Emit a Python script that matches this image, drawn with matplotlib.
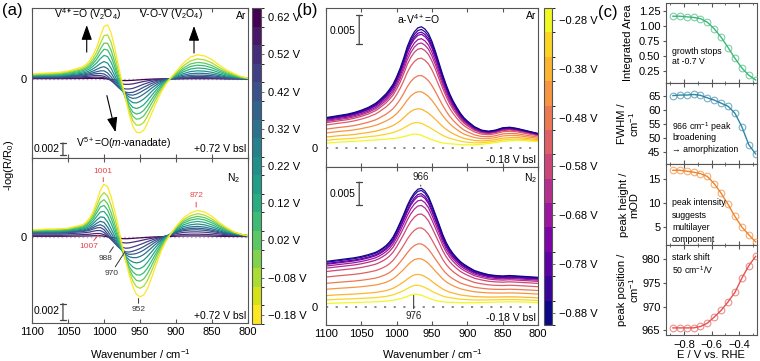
import numpy as np
import matplotlib
matplotlib.use("Agg")
import matplotlib.pyplot as plt
from matplotlib.colors import ListedColormap, BoundaryNorm
from matplotlib.colorbar import ColorbarBase

plt.rcParams['font.family'] = ['Liberation Sans', 'DejaVu Sans']
plt.rcParams['mathtext.fontset'] = 'custom'
plt.rcParams['mathtext.rm'] = 'Liberation Sans'
plt.rcParams['mathtext.it'] = 'Liberation Sans:italic'
plt.rcParams['mathtext.bf'] = 'Liberation Sans:bold'

# ---------------- data ----------------
wavenumber = [1100, 1090, 1080, 1070, 1060, 1050, 1040, 1030,
              1025, 1020, 1015, 1010, 1005, 1000, 995, 990, 985, 980, 975, 970, 965, 960, 955, 950,
              945, 940, 935, 930, 925, 920, 915, 910, 905,
              900, 890, 880, 870, 860, 850, 840, 830, 820, 810, 800]

# panel (a) spectral components (mOD): late (-0.18 V) and early-stage difference
ar_a_late = [0.8, 0.9, 0.95, 1.0, 1.1, 1.3, 1.6, 2.0,
             2.4, 3.0, 4.0, 5.3, 7.1, 8.7, 9.0, 7.6, 5.1, 2.2, -0.5, -3.3, -5.9, -7.9, -8.9, -9.0,
             -8.6, -7.5, -6.1, -4.7, -3.3, -2.1, -1.05, -0.25, 0.5,
             1.2, 2.6, 3.6, 4.0, 3.8, 3.2, 2.3, 1.5, 0.9, 0.4, 0.1]
ar_a_early = [0.2, 0.2, 0.2, 0.2, 0.2, 0.25, 0.3, 0.35,
              0.4, 0.45, 0.5, 0.5, 0.4, 0.2, -0.2, -0.7, -1.2, -1.6, -1.9, -2.0, -1.9, -1.7, -1.4, -1.1,
              -0.8, -0.6, -0.4, -0.25, -0.15, -0.1, -0.05, 0.0, 0.0,
              0.0, 0.05, 0.1, 0.1, 0.1, 0.1, 0.05, 0.0, 0.0, 0.0, 0.0]
n2_a_late = [0.8, 0.85, 0.9, 0.9, 0.95, 1.0, 1.2, 1.4,
             1.7, 2.2, 3.0, 4.2, 5.5, 6.2, 5.9, 4.7, 3.0, 1.1, -0.9, -2.8, -4.5, -5.9, -6.8, -7.1,
             -6.9, -6.2, -5.1, -3.9, -2.7, -1.6, -0.7, 0.0, 0.6,
             1.2, 2.2, 2.8, 3.1, 2.9, 2.4, 1.7, 1.1, 0.6, 0.3, 0.1]
n2_a_early = [0.35, 0.35, 0.35, 0.35, 0.35, 0.4, 0.45, 0.5,
              0.55, 0.6, 0.7, 0.75, 0.7, 0.4, -0.1, -0.6, -1.0, -1.3, -1.5, -1.6, -1.5, -1.3, -1.1, -0.9,
              -0.7, -0.5, -0.35, -0.2, -0.1, 0.0, 0.1, 0.2, 0.3,
              0.4, 0.55, 0.6, 0.6, 0.55, 0.45, 0.35, 0.25, 0.2, 0.15, 0.1]

# colour-bar steps and the spectra drawn in panel (a)
colorbar_potential_a = [0.62, 0.57, 0.52, 0.47, 0.42, 0.37, 0.32, 0.27, 0.22, 0.17, 0.12, 0.07,
                        0.02, -0.03, -0.08, -0.13, -0.18]
colorbar_ticks_a = [0.62, 0.52, 0.42, 0.32, 0.22, 0.12, 0.02, -0.08, -0.18]
curve_potential_a = [0.62, 0.52, 0.47, 0.42, 0.37, 0.32, 0.22, 0.12, 0.07, 0.02, -0.08, -0.18]
weight_late_a = [0.00, 0.01, 0.03, 0.07, 0.13, 0.21, 0.31, 0.43, 0.55, 0.67, 0.82, 1.00]
weight_early_a = [0.15, 0.45, 0.80, 1.00, 1.00, 0.95, 0.90, 0.80, 0.70, 0.55, 0.30, 0.00]

# panel (b) end-member spectra (mOD)
ar_b_dark = [5.4, 5.6, 5.8, 6.0, 6.3, 6.7, 7.2, 7.9,
             8.4, 9.0, 9.6, 10.4, 11.3, 12.6, 14.1, 15.9, 17.9, 19.4, 20.5, 21.2, 21.4, 21.0, 20.2, 18.8,
             17.0, 15.0, 13.0, 11.2, 9.6, 8.3, 7.2, 6.2, 5.4,
             4.8, 3.8, 3.2, 3.0, 3.2, 3.6, 3.7, 3.5, 3.2, 2.9, 2.6]
ar_b_light = [0.9, 1.0, 1.1, 1.15, 1.2, 1.3, 1.4, 1.45,
              1.5, 1.55, 1.6, 1.65, 1.7, 1.8, 1.9, 2.05, 2.2, 2.4, 2.5, 2.45, 2.3, 2.0, 1.75, 1.5,
              1.3, 1.1, 0.95, 0.85, 0.8, 0.75, 0.7, 0.65, 0.6,
              0.6, 0.6, 0.7, 0.85, 1.0, 1.2, 1.3, 1.4, 1.35, 1.25, 1.2]
n2_b_dark = [10.0, 10.2, 10.4, 10.6, 10.8, 11.1, 11.5, 12.0,
             12.4, 12.9, 13.5, 14.3, 15.4, 16.9, 18.6, 20.4, 22.3, 23.9, 25.1, 25.9, 26.1, 25.5, 24.3, 22.4,
             20.3, 18.2, 16.0, 14.2, 12.8, 11.7, 10.8, 10.0, 9.4,
             8.9, 8.0, 7.5, 7.1, 6.9, 6.8, 6.9, 6.8, 6.7, 6.6, 6.5]
n2_b_light = [0.7, 0.8, 0.85, 0.9, 0.95, 1.0, 1.05, 1.1,
              1.15, 1.2, 1.25, 1.35, 1.45, 1.6, 1.8, 2.0, 2.3, 2.6, 2.8, 2.75, 2.55, 2.25, 1.95, 1.65,
              1.4, 1.25, 1.1, 1.05, 1.0, 1.0, 0.95, 0.9, 0.9,
              0.9, 0.9, 0.95, 1.0, 1.05, 1.1, 1.1, 1.1, 1.05, 1.0, 0.9]

potential_b = [-0.88, -0.83, -0.78, -0.73, -0.68, -0.63, -0.58, -0.53, -0.48, -0.43, -0.38, -0.33, -0.28]
colorbar_ticks_b = [-0.28, -0.38, -0.48, -0.58, -0.68, -0.78, -0.88]
weight_ar_b = [1.00, 0.975, 0.95, 0.93, 0.89, 0.85, 0.80, 0.71, 0.55, 0.40, 0.24, 0.11, 0.00]
weight_n2_b = [1.00, 0.98, 0.95, 0.93, 0.89, 0.84, 0.76, 0.63, 0.48, 0.34, 0.19, 0.086, 0.00]

# panel (c)
potential_c = [-0.88, -0.83, -0.78, -0.73, -0.68, -0.63, -0.58, -0.53, -0.48, -0.43, -0.38, -0.33, -0.28]
integrated_area = [1.16, 1.16, 1.15, 1.14, 1.12, 1.06, 0.95, 0.81, 0.64, 0.46, 0.30, 0.18, 0.10]
fwhm = [65.1, 65.3, 65.3, 65.5, 65.2, 64.3, 63.5, 62.4, 61.3, 58.8, 54.0, 47.6, 44.3]
peak_height = [16.8, 16.8, 16.6, 16.4, 16.1, 15.5, 14.0, 12.0, 9.7, 7.2, 5.0, 3.4, 1.9]
peak_position = [965.5, 965.5, 965.5, 965.5, 965.8, 966.5, 967.8, 969.2, 971.0, 973.0, 976.0, 978.6, 980.6]

# ---------------- layout ----------------
W, H = 760, 361
fig = plt.figure(figsize=(W / 100, H / 100), dpi=100)


def box(x0, y0, x1, y1):
    return [x0 / W, 1 - y1 / H, (x1 - x0) / W, (y1 - y0) / H]


def T(x, y, s, **kw):
    kw.setdefault('ha', 'left')
    kw.setdefault('va', 'center')
    return fig.text(x / W, 1 - y / H, s, **kw)


SP = '#555555'
wn = np.array(wavenumber)


def style_spec_ax(ax, ylim, bottom_labels):
    ax.set_xlim(1100, 800)
    ax.set_ylim(*ylim)
    ax.set_xticks([1100, 1050, 1000, 950, 900, 850, 800])
    ax.tick_params(axis='x', direction='in', length=3, top=True, bottom=True,
                   labelbottom=bottom_labels, labelsize=8, color=SP, pad=3)
    ax.set_yticks([0])
    ax.tick_params(axis='y', length=0, labelsize=8, pad=4)
    for s in ax.spines.values():
        s.set_color(SP)
        s.set_linewidth(0.8)


def scalebar(ax, x, y0, length):
    ax.annotate('', xy=(x, y0), xytext=(x, y0 + length),
                arrowprops=dict(arrowstyle='|-|,widthA=0.22,widthB=0.22', color='#444444',
                                lw=0.9, shrinkA=0, shrinkB=0))


def fmt_v(p):
    return ('%.2f V' % p).replace('-', '\u2212')


# colour maps
cm_a = ListedColormap(plt.cm.viridis_r(np.linspace(0, 1, len(colorbar_potential_a))))
bnd_a = np.linspace(min(colorbar_potential_a) - 0.025, max(colorbar_potential_a) + 0.025,
                    len(colorbar_potential_a) + 1)
nrm_a = BoundaryNorm(bnd_a, cm_a.N)
cm_b = ListedColormap(plt.cm.plasma(np.linspace(0, 1, len(potential_b))))
bnd_b = np.linspace(min(potential_b) - 0.025, max(potential_b) + 0.025, len(potential_b) + 1)
nrm_b = BoundaryNorm(bnd_b, cm_b.N)

# ---------------- panel (a) ----------------
axA1 = fig.add_axes(box(32, 8, 248, 158))
axA2 = fig.add_axes(box(32, 158, 248, 323))
for ax, late, early in [(axA1, ar_a_late, ar_a_early), (axA2, n2_a_late, n2_a_early)]:
    ax.axhline(0, color='#bbbbbb', lw=1.0, ls=(0, (1.2, 1.8)), zorder=0)
    for p, wl, we in zip(curve_potential_a, weight_late_a, weight_early_a):
        y = wl * np.array(late) + we * np.array(early)
        ax.plot(wn, y, color=cm_a(nrm_a(p)), lw=0.9)
style_spec_ax(axA1, (-13.2, 11.8), False)
style_spec_ax(axA2, (-10.2, 9.3), True)

# annotations top (Ar)
T(88, 14, r'V$^{4+}$=O (V$_2$O$_4$)', ha='center', fontsize=7.5)
T(171, 14, r'V-O-V (V$_2$O$_4$)', ha='center', fontsize=7.5)
T(246, 16, 'Ar', ha='right', fontsize=7.5)
T(124, 143, r'V$^{5+}$=O($m$-vanadate)', ha='center', fontsize=7.5)
T(60, 149, '0.002', ha='right', fontsize=7.5)
T(246, 149, '+0.72 V bsl', ha='right', fontsize=7.5)
arrow_kw = dict(arrowstyle='-|>,head_length=0.9,head_width=0.32', color='black', lw=0.8,
                shrinkA=0, shrinkB=0, mutation_scale=10)
axA1.annotate('', xy=(1024, 8.95), xytext=(1024, 4.45), arrowprops=arrow_kw)
axA1.annotate('', xy=(875, 8.8), xytext=(875, 4.3), arrowprops=arrow_kw)
axA1.annotate('', xy=(984, -8.9), xytext=(996, -2.8), arrowprops=arrow_kw)
scalebar(axA1, 1057, -12.7, 2)

# annotations bottom (N2)
RED = '#e8464a'
T(240, 178, r'N$_2$', ha='right', fontsize=7.5)
axA2.annotate('1001', xy=(1001, 6.5), xytext=(1001, 7.3), ha='center', va='bottom', fontsize=6,
              color=RED, arrowprops=dict(arrowstyle='-', color=RED, lw=0.7, shrinkA=0, shrinkB=0))
axA2.annotate('872', xy=(872, 3.5), xytext=(872, 4.4), ha='center', va='bottom', fontsize=6,
              color=RED, arrowprops=dict(arrowstyle='-', color=RED, lw=0.7, shrinkA=0, shrinkB=0))
axA2.annotate('1007', xy=(1008, 0.2), xytext=(1021, -1.2), ha='center', va='center', fontsize=6,
              color=RED, arrowprops=dict(arrowstyle='-', color=RED, lw=0.7, shrinkA=0, shrinkB=0))
axA2.annotate('988', xy=(987, -1.2), xytext=(998, -2.6), ha='center', va='center', fontsize=6,
              color='#333333', arrowprops=dict(arrowstyle='-', color='#333333', lw=0.7, shrinkA=0, shrinkB=0))
axA2.annotate('970', xy=(971, -1.8), xytext=(990, -4.3), ha='center', va='center', fontsize=6,
              color='#333333', arrowprops=dict(arrowstyle='-', color='#333333', lw=0.7, shrinkA=0, shrinkB=0))
axA2.annotate('952', xy=(952, -7.3), xytext=(952, -8.2), ha='center', va='top', fontsize=6,
              color='#333333', arrowprops=dict(arrowstyle='-', color='#333333', lw=0.7, shrinkA=0, shrinkB=0))
T(60, 311, '0.002', ha='right', fontsize=7.5)
T(246, 316, '+0.72 V bsl', ha='right', fontsize=7.5)
scalebar(axA2, 1057, -9.9, 2)

T(140, 354, r'Wavenumber / cm$^{-1}$', ha='center', fontsize=8)
T(9, 165, r'-log(R/R$_0$)', ha='center', rotation=90, fontsize=8)
T(2, 11, '(a)', fontsize=12)

# colourbar (a)
caxA = fig.add_axes(box(252, 8, 261, 324))
cbA = ColorbarBase(caxA, cmap=cm_a, norm=nrm_a, boundaries=bnd_a, ticks=colorbar_ticks_a)
cbA.set_ticklabels([fmt_v(p) for p in colorbar_ticks_a])
caxA.tick_params(labelsize=8, length=2, width=0.6, color=SP, pad=3)
cbA.outline.set_edgecolor(SP)
cbA.outline.set_linewidth(0.8)

# ---------------- panel (b) ----------------
axB1 = fig.add_axes(box(326, 8, 538, 167))
axB2 = fig.add_axes(box(326, 167, 538, 325))
for ax, dark, light, wts in [(axB1, ar_b_dark, ar_b_light, weight_ar_b),
                             (axB2, n2_b_dark, n2_b_light, weight_n2_b)]:
    ax.axhline(0, color='#777777', lw=1.2, ls=(0, (1.3, 4.5)), zorder=0)
    for p, w in zip(potential_b[::-1], wts[::-1]):
        y = np.array(light) + w * (np.array(dark) - np.array(light))
        ax.plot(wn, y, color=cm_b(nrm_b(p)), lw=0.9)
style_spec_ax(axB1, (-3.3, 24.7), False)
style_spec_ax(axB2, (-4.0, 30.8), True)
axB1.tick_params(axis='y', pad=6)
axB2.tick_params(axis='y', pad=6)

T(418, 19, r'a-V$^{4+}$=O', ha='center', fontsize=7.5)
T(536, 16, 'Ar', ha='right', fontsize=7.5)
T(356, 31, '0.005', ha='right', fontsize=7.5)
T(536, 160, '-0.18 V bsl', ha='right', fontsize=7.5)
scalebar(axB1, 1053, 18.4, 5)

T(537, 178, r'N$_2$', ha='right', fontsize=7.5)
T(355, 194, '0.005', ha='right', fontsize=7.5)
T(536, 318, '-0.18 V bsl', ha='right', fontsize=7.5)
scalebar(axB2, 1053, 22.45, 5)
axB2.annotate('966', xy=(966, 26.6), xytext=(966, 27.4), ha='center', va='bottom', fontsize=7,
              color='#222222', arrowprops=dict(arrowstyle='-', color='#444444', lw=0.8, shrinkA=0, shrinkB=0))
axB2.annotate('976', xy=(976, 2.5), xytext=(976, -1.0), ha='center', va='top', fontsize=7,
              color='#222222', arrowprops=dict(arrowstyle='-', color='#444444', lw=0.8, shrinkA=0, shrinkB=0))

T(432, 354, r'Wavenumber / cm$^{-1}$', ha='center', fontsize=8)
T(297, 11, '(b)', fontsize=12)

caxB = fig.add_axes(box(544, 8, 552, 325))
cbB = ColorbarBase(caxB, cmap=cm_b, norm=nrm_b, boundaries=bnd_b, ticks=colorbar_ticks_b)
cbB.set_ticklabels([fmt_v(p) for p in colorbar_ticks_b])
caxB.tick_params(labelsize=8, length=2, width=0.6, color=SP, pad=3)
cbB.outline.set_edgecolor(SP)
cbB.outline.set_linewidth(0.8)

# ---------------- panel (c) ----------------
c_specs = [
    (box(666, 3, 757, 83), integrated_area, '#3cb878', (0.05, 1.38), [0.25, 0.5, 0.75, 1.0, 1.25],
     ['0.25', '0.50', '0.75', '1.00', '1.25']),
    (box(666, 83, 757, 164), fwhm, '#2f86a6', (40.7, 69.6), [45, 50, 55, 60, 65], None),
    (box(666, 164, 757, 245), peak_height, '#f0832a', (1.25, 18.1), [5, 10, 15], None),
    (box(666, 245, 757, 335), peak_position, '#e5534f', (964.0, 983.0), [965, 970, 975, 980], None),
]
for i, (b, vals, col, yl, yt, ytl) in enumerate(c_specs):
    ax = fig.add_axes(b)
    ax.plot(potential_c, vals, color=col, lw=1.0, zorder=2)
    ax.plot(potential_c, vals, ls='none', marker='o', ms=4.8, mfc='none', mec=col, mew=0.8,
            alpha=0.65, zorder=3)
    ax.set_xlim(-0.93, -0.27)
    ax.set_ylim(*yl)
    ax.set_yticks(yt)
    if ytl:
        ax.set_yticklabels(ytl)
    ax.set_xticks([-0.8, -0.6, -0.4])
    ax.set_xticks([-0.9, -0.7, -0.5, -0.3], minor=True)
    ax.tick_params(axis='x', which='both', direction='in', top=True, bottom=True,
                   labelbottom=(i == 3), labelsize=8, color=SP)
    ax.tick_params(axis='x', which='major', length=3)
    ax.tick_params(axis='x', which='minor', length=1.5)
    ax.tick_params(axis='y', direction='out', length=2.5, labelsize=8, pad=1.5, color=SP)
    for s in ax.spines.values():
        s.set_color(SP)
        s.set_linewidth(0.8)

T(628, 43, 'Integrated Area', ha='center', rotation=90, fontsize=8)
T(629, 124, 'FWHM /\ncm$^{-1}$', ha='center', rotation=90, fontsize=8,
  multialignment='center', linespacing=1.05)
T(629, 205, 'peak height /\nmOD', ha='center', rotation=90, fontsize=8,
  multialignment='center', linespacing=1.05)
T(629, 290, 'peak position /\ncm$^{-1}$', ha='center', rotation=90, fontsize=8,
  multialignment='center', linespacing=1.05)

T(672, 52, 'growth stops', fontsize=6.3)
T(672, 62, 'at -0.7 V', fontsize=6.3)
T(672, 127, r'966 cm$^{-1}$ peak', fontsize=6.3)
T(672, 138, 'broadening', fontsize=6.3)
T(672, 150, '\u2192 amorphization', fontsize=6.3)
T(672, 203, 'peak intensity', fontsize=6.3)
T(672, 215, 'suggests', fontsize=6.3)
T(672, 227, 'multilayer', fontsize=6.3)
T(672, 239, 'component', fontsize=6.3)
T(672, 258, 'stark shift', fontsize=6.3)
T(672, 270, r'50 cm$^{-1}$/V', fontsize=6.3)

T(711, 355, 'E / V vs. RHE', ha='center', fontsize=8)
T(598, 12, '(c)', fontsize=12)

fig.savefig('out.png', dpi=100)
